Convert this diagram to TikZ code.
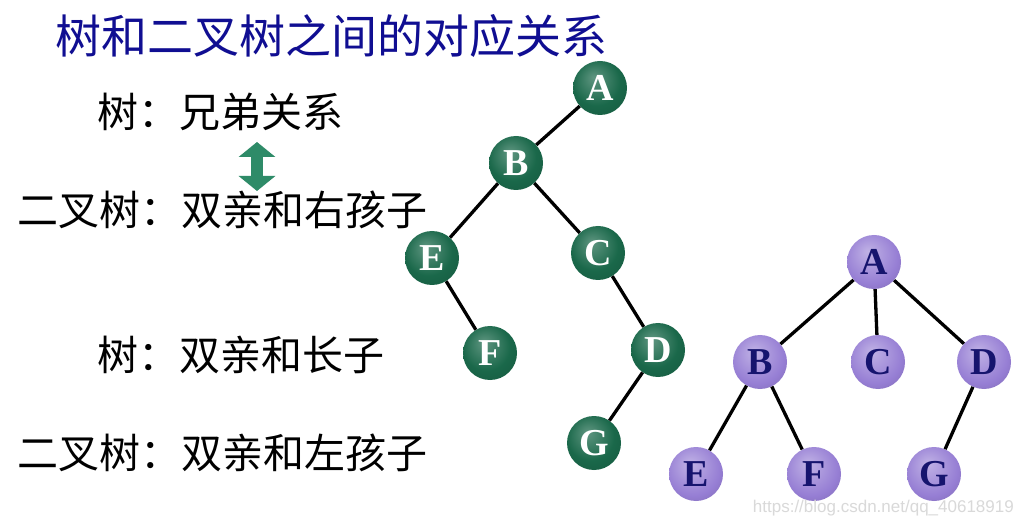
\documentclass[tikz,border=0pt]{standalone}
\usepackage{fontspec}
\setmainfont{Liberation Serif}
\newfontfamily\cjk{Noto Sans CJK SC}
\newfontfamily\websans{Liberation Sans}
\usepackage{tikz}
\usetikzlibrary{arrows.meta}
\definecolor{tree-green}{RGB}{26,104,74}
\definecolor{tree-purple}{RGB}{150,126,212}
\definecolor{letter-navy}{RGB}{22,20,110}
\definecolor{title-blue}{RGB}{16,14,146}
\definecolor{arrow-green}{RGB}{46,139,104}
\pgfdeclareradialshading{greenball}{\pgfpoint{-6bp}{10bp}}{%
  color(0bp)=(tree-green!70!white); color(22bp)=(tree-green); color(50bp)=(tree-green!75!black)}
\pgfdeclareradialshading{purpleball}{\pgfpoint{-6bp}{10bp}}{%
  color(0bp)=(tree-purple!60!white); color(25bp)=(tree-purple); color(50bp)=(tree-purple!70!black)}

\begin{document}
\begin{tikzpicture}[
    x=1pt, y=-1pt,
    gnode/.style={circle, minimum size=54pt, inner sep=0pt, shading=greenball, text=white, font=\bfseries\fontsize{38}{38}\selectfont},
    pnode/.style={circle, minimum size=54pt, inner sep=0pt, shading=purpleball, text=letter-navy, font=\bfseries\fontsize{38}{38}\selectfont},
    rel/.style={anchor=west, inner sep=0pt, font=\cjk\fontsize{41}{41}\selectfont},
    edge/.style={line width=3.3pt, color=black}
]
    \useasboundingbox[fill=white] (0,0) rectangle (1023,529);

    % Titel
    \node[anchor=west, inner sep=0pt, text=title-blue, font=\cjk\fontsize{46}{46}\selectfont] (title) at (55,36) {树和二叉树之间的对应关系};

    % Beziehungen
    \node[rel] (r1) at (97,112) {树：兄弟关系};
    \node[rel] (r2) at (17,210) {二叉树：双亲和右孩子};
    \node[rel] (r3) at (97,355) {树：双亲和长子};
    \node[rel] (r4) at (17,453) {二叉树：双亲和左孩子};

    \coordinate (up) at (257,142);
    \coordinate (dn) at (257,191);
    \draw[line width=12pt, color=arrow-green, {Triangle[width=36pt, length=15pt]}-{Triangle[width=36pt, length=15pt]}] (up) -- (dn);

    % Binaerbaum
    \node[gnode] (bA) at (600,88) {A};
    \node[gnode] (bB) at (516,163) {B};
    \node[gnode] (bE) at (432,258) {E};
    \node[gnode] (bC) at (598,253) {C};
    \node[gnode] (bF) at (490,353) {F};
    \node[gnode] (bD) at (658,350) {D};
    \node[gnode] (bG) at (594,443) {G};

    \draw[edge] (bA) -- (bB);
    \draw[edge] (bB) -- (bE);
    \draw[edge] (bB) -- (bC);
    \draw[edge] (bE) -- (bF);
    \draw[edge] (bC) -- (bD);
    \draw[edge] (bD) -- (bG);

    % Baum
    \node[pnode] (tA) at (874,262) {A};
    \node[pnode] (tB) at (760,362) {B};
    \node[pnode] (tC) at (878,362) {C};
    \node[pnode] (tD) at (984,362) {D};
    \node[pnode] (tE) at (696,474) {E};
    \node[pnode] (tF) at (814,474) {F};
    \node[pnode] (tG) at (934,474) {G};

    \draw[edge] (tA) -- (tB);
    \draw[edge] (tA) -- (tC);
    \draw[edge] (tA) -- (tD);
    \draw[edge] (tB) -- (tE);
    \draw[edge] (tB) -- (tF);
    \draw[edge] (tD) -- (tG);

    \node[anchor=east, inner sep=0pt, text=black!15, font=\websans\fontsize{17}{17}\selectfont] (mark) at (1014,508) {https://blog.csdn.net/qq\_40618919};
\end{tikzpicture}
\end{document}
